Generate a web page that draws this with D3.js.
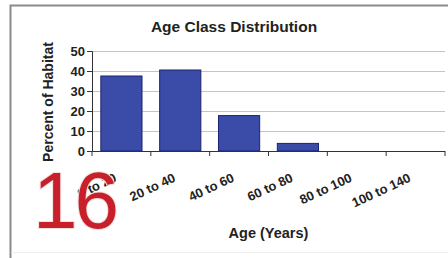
<!DOCTYPE html>
<html>
<head>
<meta charset="utf-8">
<script src="https://cdn.jsdelivr.net/npm/d3@7"></script>
<style>
  body { margin: 0; background: #fff; }
  text { font-family: "Liberation Sans", Arial, sans-serif; }
</style>
</head>
<body>
<div id="chart"></div>
<script>
// Age class data
const categories = ["0 to 20", "20 to 40", "40 to 60", "60 to 80", "80 to 100", "100 to 140"];
const percents = [37.5, 40.5, 17.7, 3.8, 0, 0];
const yTicks = [0, 10, 20, 30, 40, 50];

const width = 448, height = 258;
const margin = { left: 92, right: 3, top: 51, bottom: 107 };

const svg = d3.select("#chart").append("svg")
    .attr("width", width)
    .attr("height", height);

// outer frame
svg.append("path")
    .attr("d", `M10.5,${height} V5.5 H${width}`)
    .attr("fill", "none")
    .attr("stroke", "#8a8a8a")
    .attr("stroke-width", 2);
svg.append("line")
    .attr("x1", 11).attr("x2", width)
    .attr("y1", 252.5).attr("y2", 252.5)
    .attr("stroke", "#ededed");

const x = d3.scaleBand()
    .domain(categories)
    .range([margin.left, width - margin.right])
    .paddingInner(0.3)
    .paddingOuter(0.15);

const y = d3.scaleLinear()
    .domain([0, 50])
    .range([height - margin.bottom, margin.top]);

// gridlines
svg.append("g")
    .selectAll("line")
    .data(yTicks.slice(1))
    .enter().append("line")
    .attr("x1", margin.left).attr("x2", width - margin.right)
    .attr("y1", d => Math.round(y(d)) + 0.5)
    .attr("y2", d => Math.round(y(d)) + 0.5)
    .attr("stroke", "#c4c4c4");

// bars
svg.append("g")
    .selectAll("rect")
    .data(percents)
    .enter().append("rect")
    .attr("x", (d, i) => x(categories[i]))
    .attr("y", d => y(d))
    .attr("width", x.bandwidth())
    .attr("height", d => y(0) - y(d))
    .attr("fill", "#3a4ca8")
    .attr("stroke", "#1d2270")
    .attr("stroke-width", 1);

// y axis
const yAxis = svg.append("g")
    .attr("transform", `translate(${margin.left},0)`)
    .call(d3.axisLeft(y).tickValues(yTicks).tickSize(5).tickPadding(2));
yAxis.select(".domain").attr("stroke", "#333");
yAxis.selectAll(".tick line").attr("stroke", "#333");
yAxis.selectAll("text")
    .attr("fill", "#222")
    .style("font-size", "13px")
    .style("font-weight", "bold");

// x axis with ticks on category boundaries
const xAxisG = svg.append("g")
    .attr("transform", `translate(0,${y(0)})`);
xAxisG.append("line")
    .attr("x1", margin.left).attr("x2", width - margin.right)
    .attr("y1", 0.5).attr("y2", 0.5)
    .attr("stroke", "#333");
const bounds = d3.range(categories.length + 1).map(i => margin.left + i * (width - margin.right - margin.left) / categories.length);
xAxisG.selectAll("line.tk")
    .data(bounds)
    .enter().append("line")
    .attr("class", "tk")
    .attr("x1", d => d).attr("x2", d => d)
    .attr("y1", 0).attr("y2", 5)
    .attr("stroke", "#333");

xAxisG.selectAll("text.cat")
    .data(categories)
    .enter().append("text")
    .attr("class", "cat")
    .attr("text-anchor", "end")
    .attr("transform", d => `translate(${x(d) + x.bandwidth() / 2 - 4},${30}) rotate(-25)`)
    .attr("fill", "#222")
    .style("font-size", "13px")
    .style("font-weight", "bold")
    .text(d => d);

// titles
svg.append("text")
    .attr("x", 234).attr("y", 32)
    .attr("text-anchor", "middle")
    .attr("fill", "#222")
    .style("font-size", "15.5px")
    .style("font-weight", "bold")
    .text("Age Class Distribution");

svg.append("text")
    .attr("x", (margin.left + width - margin.right) / 2)
    .attr("y", 238)
    .attr("text-anchor", "middle")
    .attr("fill", "#222")
    .style("font-size", "14.5px")
    .style("font-weight", "bold")
    .text("Age (Years)");

svg.append("text")
    .attr("transform", `translate(53,102) rotate(-90)`)
    .attr("text-anchor", "middle")
    .attr("fill", "#222")
    .style("font-size", "14px")
    .style("font-weight", "bold")
    .text("Percent of Habitat");

// page number overlay
svg.append("text")
    .attr("x", 33).attr("y", 228)
    .attr("fill", "#c8202a")
    .attr("stroke", "#f3dede")
    .attr("stroke-width", 2)
    .attr("paint-order", "stroke")
    .style("font-size", "80px")
    .style("letter-spacing", "-3px")
    .text("16");
</script>
</body>
</html>
